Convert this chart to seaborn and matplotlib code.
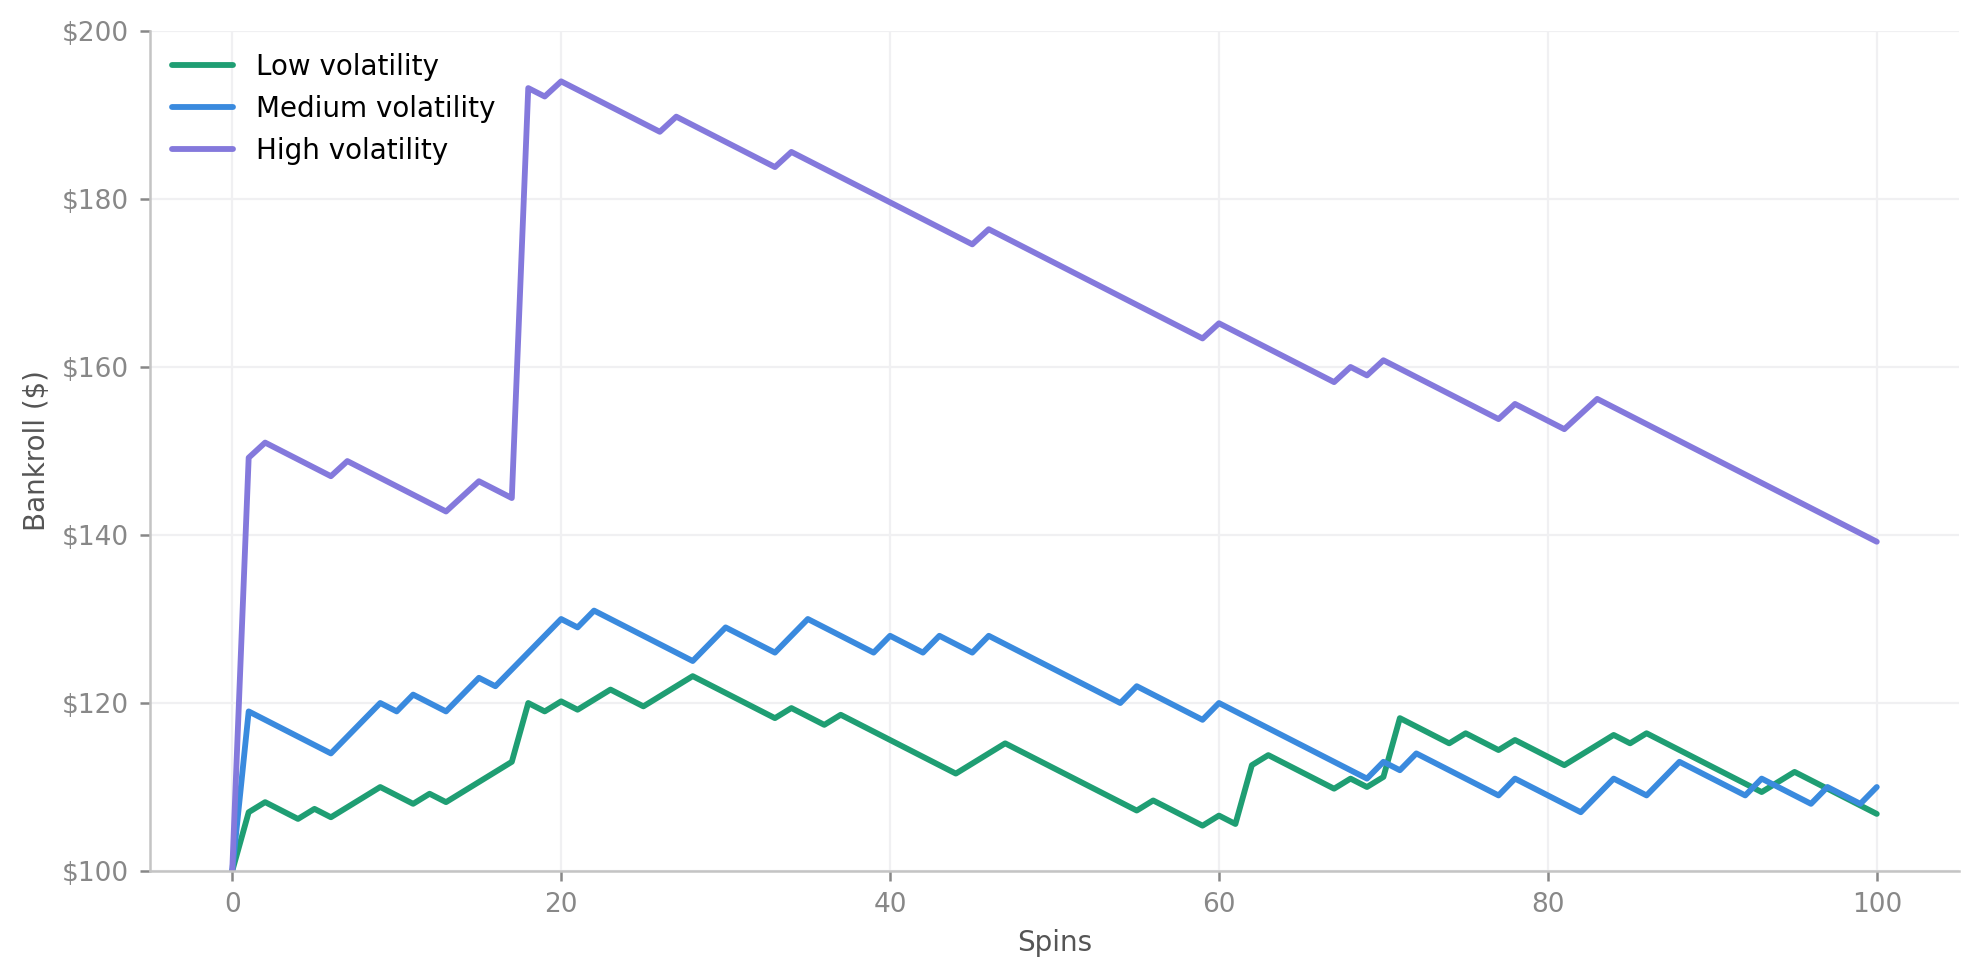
import numpy as np
import pandas as pd
import matplotlib
matplotlib.use("Agg")
import matplotlib.pyplot as plt
import seaborn as sns
from matplotlib.ticker import FuncFormatter

# ------------------------------------------------------------------------
# Data: bankroll after each spin
# ------------------------------------------------------------------------
spins = list(range(0, 101))

low_vol = [
    100.0, 107.0, 108.2, 107.2, 106.2, 107.4, 106.4, 107.6, 108.8, 110.0,
    109.0, 108.0, 109.2, 108.2, 109.4, 110.6, 111.8, 113.0, 120.0, 119.0,
    120.2, 119.2, 120.4, 121.6, 120.6, 119.6, 120.8, 122.0, 123.2, 122.2,
    121.2, 120.2, 119.2, 118.2, 119.4, 118.4, 117.4, 118.6, 117.6, 116.6,
    115.6, 114.6, 113.6, 112.6, 111.6, 112.8, 114.0, 115.2, 114.2, 113.2,
    112.2, 111.2, 110.2, 109.2, 108.2, 107.2, 108.4, 107.4, 106.4, 105.4,
    106.6, 105.6, 112.6, 113.8, 112.8, 111.8, 110.8, 109.8, 111.0, 110.0,
    111.2, 118.2, 117.2, 116.2, 115.2, 116.4, 115.4, 114.4, 115.6, 114.6,
    113.6, 112.6, 113.8, 115.0, 116.2, 115.2, 116.4, 115.4, 114.4, 113.4,
    112.4, 111.4, 110.4, 109.4, 110.6, 111.8, 110.8, 109.8, 108.8, 107.8,
    106.8,
]

medium_vol = [
    100, 119, 118, 117, 116, 115, 114, 116, 118, 120,
    119, 121, 120, 119, 121, 123, 122, 124, 126, 128,
    130, 129, 131, 130, 129, 128, 127, 126, 125, 127,
    129, 128, 127, 126, 128, 130, 129, 128, 127, 126,
    128, 127, 126, 128, 127, 126, 128, 127, 126, 125,
    124, 123, 122, 121, 120, 122, 121, 120, 119, 118,
    120, 119, 118, 117, 116, 115, 114, 113, 112, 111,
    113, 112, 114, 113, 112, 111, 110, 109, 111, 110,
    109, 108, 107, 109, 111, 110, 109, 111, 113, 112,
    111, 110, 109, 111, 110, 109, 108, 110, 109, 108,
    110,
]

high_vol = [
    100.0, 149.2, 151.0, 150.0, 149.0, 148.0, 147.0, 148.8, 147.8, 146.8,
    145.8, 144.8, 143.8, 142.8, 144.6, 146.4, 145.4, 144.4, 193.2, 192.2,
    194.0, 193.0, 192.0, 191.0, 190.0, 189.0, 188.0, 189.8, 188.8, 187.8,
    186.8, 185.8, 184.8, 183.8, 185.6, 184.6, 183.6, 182.6, 181.6, 180.6,
    179.6, 178.6, 177.6, 176.6, 175.6, 174.6, 176.4, 175.4, 174.4, 173.4,
    172.4, 171.4, 170.4, 169.4, 168.4, 167.4, 166.4, 165.4, 164.4, 163.4,
    165.2, 164.2, 163.2, 162.2, 161.2, 160.2, 159.2, 158.2, 160.0, 159.0,
    160.8, 159.8, 158.8, 157.8, 156.8, 155.8, 154.8, 153.8, 155.6, 154.6,
    153.6, 152.6, 154.4, 156.2, 155.2, 154.2, 153.2, 152.2, 151.2, 150.2,
    149.2, 148.2, 147.2, 146.2, 145.2, 144.2, 143.2, 142.2, 141.2, 140.2,
    139.2,
]

series_names = ["Low volatility", "Medium volatility", "High volatility"]
series_colors = ["#1f9e73", "#3a8ade", "#8479dc"]

df = pd.concat([
    pd.DataFrame({"Spins": spins, "Bankroll": vals, "Series": name})
    for name, vals in zip(series_names, [low_vol, medium_vol, high_vol])
])

# ------------------------------------------------------------------------
# Plot
# ------------------------------------------------------------------------
sns.set_theme(style="white")
plt.rcParams["font.family"] = ["DejaVu Sans"]

fig = plt.figure(figsize=(9.895, 4.9), dpi=200)
ax = fig.add_axes([0.0758, 0.1112, 0.9141, 0.8572])

sns.lineplot(data=df, x="Spins", y="Bankroll", hue="Series",
             hue_order=series_names, palette=series_colors,
             linewidth=2.1, ax=ax)

ax.set_xlim(-5, 105)
ax.set_ylim(100, 200)
ax.set_xticks([0, 20, 40, 60, 80, 100])
ax.set_yticks([100, 120, 140, 160, 180, 200])
ax.yaxis.set_major_formatter(FuncFormatter(lambda v, p: f"${v:.0f}"))

ax.grid(True, color="#f0f0f2", linewidth=0.8)
ax.set_axisbelow(True)
for side in ["top", "right"]:
    ax.spines[side].set_visible(False)
for side in ["left", "bottom"]:
    ax.spines[side].set_color("#c4c4c4")
    ax.spines[side].set_linewidth(0.9)

ax.tick_params(axis="both", labelsize=9.5, colors="#888888", length=3.5,
               width=0.9, pad=4, left=True, bottom=True)
ax.set_xlabel("Spins", fontsize=10, color="#555555")
ax.set_ylabel("Bankroll ($)", fontsize=10, color="#555555")

handles, labels = ax.get_legend_handles_labels()
leg = ax.legend(handles, labels, loc="upper left", frameon=False, fontsize=10,
                handlelength=2.2, borderaxespad=0.4)
for txt in leg.get_texts():
    txt.set_color("black")

fig.savefig("out.png", dpi=200)
plt.close(fig)
print("Saved out.png")
